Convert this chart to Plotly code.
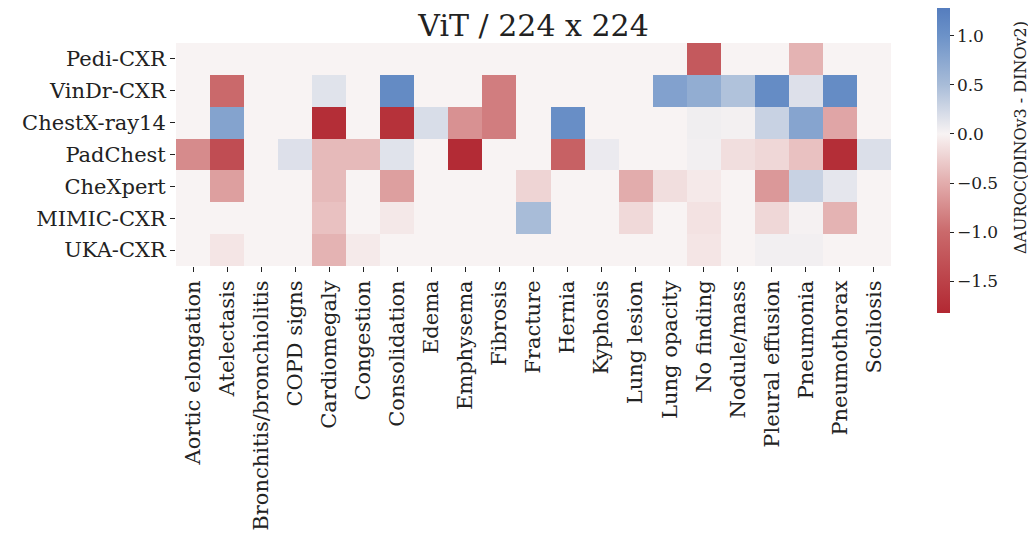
import plotly.graph_objects as go

title_text = "ViT / 224 x 224"
colorbar_label = "ΔAUROC(DINOv3 - DINOv2)"

datasets = ["Pedi-CXR", "VinDr-CXR", "ChestX-ray14", "PadChest", "CheXpert", "MIMIC-CXR", "UKA-CXR"]
findings = ["Aortic elongation", "Atelectasis", "Bronchitis/bronchiolitis", "COPD signs", "Cardiomegaly",
            "Congestion", "Consolidation", "Edema", "Emphysema", "Fibrosis", "Fracture", "Hernia",
            "Kyphosis", "Lung lesion", "Lung opacity", "No finding", "Nodule/mass", "Pleural effusion",
            "Pneumonia", "Pneumothorax", "Scoliosis"]

#             AoE   Atel  Bron  COPD  Card  Cong  Cons  Edem  Emph  Fibr  Frac  Hern  Kyph  LLes  LOpa  NoF   Nod   PlEf  Pnia  Ptx   Scol
pedi_cxr    = [0.0,  0.0,  0.0,  0.0,  0.0,  0.0,  0.0,  0.0,  0.0,  0.0,  0.0,  0.0,  0.0,  0.0,  0.0, -1.20, 0.0,  0.0, -0.45, 0.0,  0.0]
vindr_cxr   = [0.0, -1.00, 0.0,  0.0,  0.15, 0.0,  1.10, 0.0,  0.0, -0.85, 0.0,  0.0,  0.0,  0.0,  0.82, 0.68, 0.45, 1.08, 0.17, 1.08, 0.0]
chestxray14 = [0.0,  0.80, 0.0,  0.0, -1.75, 0.0, -1.70, 0.20, -0.70, -0.85, 0.0, 1.05, 0.0,  0.0,  0.0,  0.05, 0.03, 0.30, 0.78, -0.55, 0.0]
padchest    = [-0.75, -1.35, 0.0, 0.17, -0.40, -0.40, 0.15, 0.0, -1.78, 0.0, 0.0, -1.10, 0.08, 0.0, 0.0, 0.04, -0.15, -0.20, -0.35, -1.75, 0.18]
chexpert    = [0.0, -0.60, 0.0,  0.0, -0.40, 0.0, -0.60, 0.0,  0.0,  0.0, -0.22, 0.0,  0.0, -0.50, -0.15, -0.07, 0.0, -0.65, 0.30, 0.12, 0.0]
mimic_cxr   = [0.0,  0.0,  0.0,  0.0, -0.35, 0.0, -0.08, 0.0,  0.0,  0.0,  0.50, 0.0,  0.0, -0.18, 0.0, -0.12, 0.0, -0.20, 0.02, -0.45, 0.0]
uka_cxr     = [0.0, -0.10, 0.0,  0.0, -0.45, -0.06, 0.0, 0.0,  0.0,  0.0,  0.0,  0.0,  0.0,  0.0,  0.0, -0.10, 0.0,  0.04, 0.04, 0.0,  0.0]

z_values = [pedi_cxr, vindr_cxr, chestxray14, padchest, chexpert, mimic_cxr, uka_cxr]

zmin, zmax = -1.82, 1.28
cticks = [1.0, 0.5, 0.0, -0.5, -1.0, -1.5]

stops = [(-1.82, "rgb(178,40,50)"), (-1.0, "rgb(202,105,107)"), (-0.5, "rgb(226,172,172)"),
         (0.0, "rgb(248,243,243)"), (0.5, "rgb(168,188,216)"), (1.0, "rgb(108,146,200)"),
         (1.28, "rgb(85,125,190)")]
colorscale = [[(v - zmin) / (zmax - zmin), c] for v, c in stops]

font_family = "DejaVu Serif"
txt = "#222222"

# page body has an 8px margin, so the figure is laid out 8px up/left of the page coordinates
OFF = 8
W, H = 1036 - OFF, 552 - OFF
L, T = 176 - OFF, 43 - OFF
PR, PB = 891 - OFF, 266 - OFF
R, B = W - PR, H - PB
pw, ph = PR - L, PB - T

cb_top = 0
cb_bottom = 313 - OFF

fig = go.Figure(go.Heatmap(
    z=z_values, x=findings, y=datasets,
    zmin=zmin, zmax=zmax, colorscale=colorscale,
    hoverinfo="skip",
    colorbar=dict(
        thickness=13, lenmode="pixels", len=cb_bottom - cb_top,
        x=(937 - OFF - L) / pw, xanchor="left", y=1 + (T - cb_top) / ph, yanchor="top",
        xpad=0, ypad=0, outlinewidth=0,
        tickvals=cticks, tickformat=".1f", ticks="outside", ticklen=4, tickcolor=txt,
        tickfont=dict(family=font_family, size=17, color=txt),
    ),
))

fig.add_annotation(text=colorbar_label, textangle=-90, showarrow=False,
                   xref="paper", yref="paper",
                   x=(1020 - OFF - L) / pw, y=1 - (138 - OFF - T) / ph,
                   xanchor="center", yanchor="middle",
                   font=dict(family=font_family, size=16, color=txt))

fig.update_layout(
    width=W, height=H,
    margin=dict(l=L, r=R, t=T, b=B, autoexpand=False),
    paper_bgcolor="white", plot_bgcolor="white",
    title=dict(text=title_text, x=(L + pw / 2) / W, xanchor="center",
               y=1 - (25 - OFF) / H, yanchor="middle", yref="container",
               font=dict(family=font_family, size=30, color=txt)),
    font=dict(family=font_family, color=txt),
)
fig.update_xaxes(tickangle=-90, ticks="outside", ticklen=5, tickcolor=txt,
                 tickfont=dict(family=font_family, size=21, color=txt),
                 showgrid=False, zeroline=False, showline=False)
fig.update_yaxes(autorange="reversed", ticks="outside", ticklen=5, tickcolor=txt,
                 tickfont=dict(family=font_family, size=21, color=txt),
                 showgrid=False, zeroline=False, showline=False)

fig.write_html("out.html")
